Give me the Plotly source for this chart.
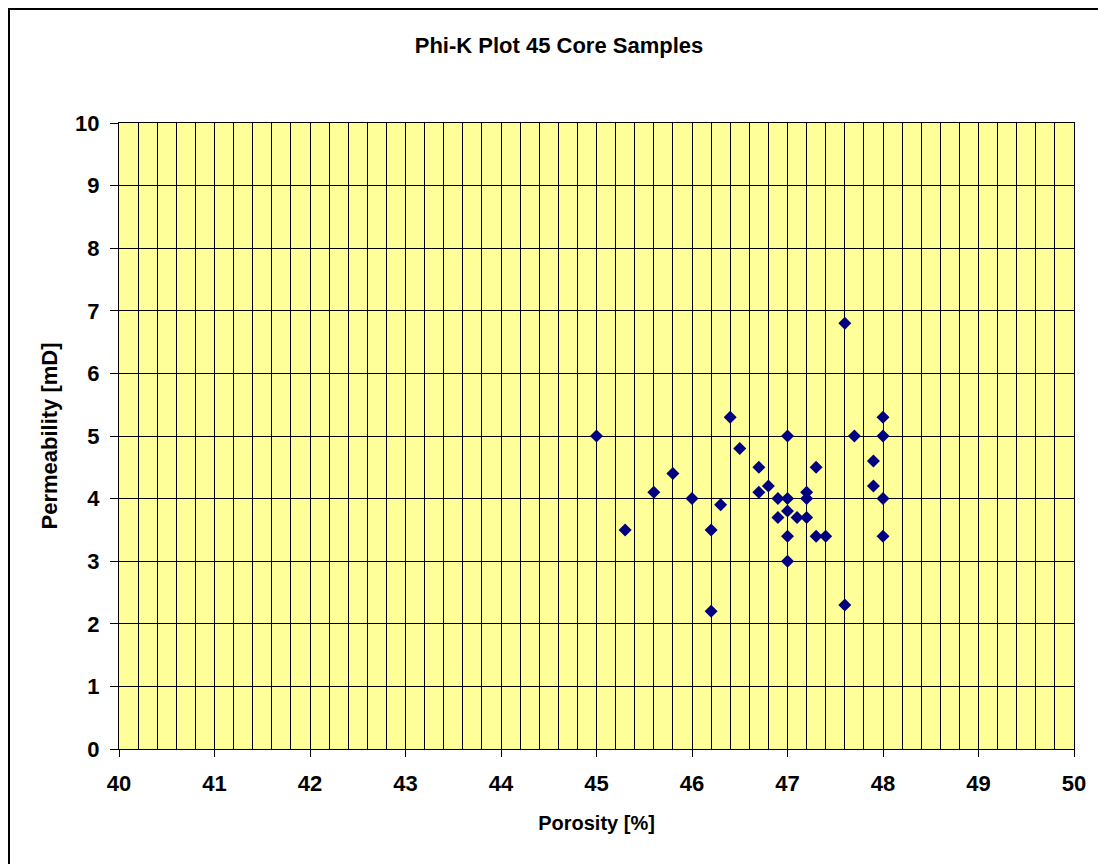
import plotly.graph_objects as go

# Core sample measurements: porosity [%] and permeability [mD]
porosity = [45.0, 46.4, 47.0, 47.7, 48.0, 48.0, 46.5, 46.7, 47.3, 45.8,
            47.9, 47.9, 45.6, 46.0, 46.3, 46.7, 46.8, 46.9, 47.0, 47.2,
            47.2, 48.0, 47.0, 46.9, 47.1, 47.2, 45.3, 46.2, 47.0, 47.3,
            47.4, 48.0, 47.0, 46.2, 47.6, 47.6]
permeability = [5.0, 5.3, 5.0, 5.0, 5.3, 5.0, 4.8, 4.5, 4.5, 4.4,
                4.6, 4.2, 4.1, 4.0, 3.9, 4.1, 4.2, 4.0, 4.0, 4.1,
                4.0, 4.0, 3.8, 3.7, 3.7, 3.7, 3.5, 3.5, 3.4, 3.4,
                3.4, 3.4, 3.0, 2.2, 2.3, 6.8]

x_ticks = list(range(40, 51))
y_ticks = list(range(0, 11))

W, H = 1098, 864
L, R, T, B = 119, 24, 123, 115
FONT = "Arial, Liberation Sans, sans-serif"

fig = go.Figure()
fig.add_trace(go.Scatter(
    x=porosity, y=permeability, mode="markers",
    marker=dict(symbol="diamond", size=10, color="#000080",
                line=dict(width=0)),
    showlegend=False, hoverinfo="x+y",
))

# pixel -> paper fraction helpers for the outer chart frame
pw, ph = W - L - R, H - T - B
def px_x(p):
    return (p - L) / pw
def px_y(p):
    return 1 - (p - T) / ph

fig.update_layout(
    width=W, height=H,
    margin=dict(l=L, r=R, t=T, b=B),
    paper_bgcolor="white",
    plot_bgcolor="#FFFF99",
    font=dict(family=FONT, color="black"),
    title=dict(text="Phi-K Plot 45 Core Samples",
               font=dict(size=22, weight="bold", family=FONT),
               x=559 / W, xanchor="center", y=1 - 45 / H, yanchor="middle"),
    shapes=[dict(type="rect", xref="paper", yref="paper",
                 x0=px_x(9), x1=px_x(1104), y0=px_y(9), y1=px_y(870),
                 line=dict(color="black", width=2), layer="above")],
)

fig.update_xaxes(
    range=[40, 50], tickvals=x_ticks, ticktext=[str(v) for v in x_ticks],
    showgrid=True, gridcolor="black", gridwidth=1,
    minor=dict(dtick=0.2, tick0=40, showgrid=True, gridcolor="black",
               gridwidth=1, ticks=""),
    ticks="outside", ticklen=7, tickcolor="black", tickwidth=1,
    ticklabelstandoff=8,
    showline=True, linecolor="black", linewidth=1, mirror=True,
    zeroline=False,
    tickfont=dict(size=22, weight="bold", family=FONT),
    title=dict(text="Porosity [%]", standoff=20,
               font=dict(size=20, weight="bold", family=FONT)),
)
fig.update_yaxes(
    range=[0, 10], tickvals=y_ticks, ticktext=[str(v) for v in y_ticks],
    showgrid=True, gridcolor="black", gridwidth=1,
    ticks="outside", ticklen=8, tickcolor="black", tickwidth=1,
    ticklabelstandoff=6,
    showline=True, linecolor="black", linewidth=1, mirror=True,
    zeroline=False,
    tickfont=dict(size=22, weight="bold", family=FONT),
    title=dict(text="Permeability [mD]", standoff=11,
               font=dict(size=22, weight="bold", family=FONT)),
)

fig.write_html("out.html")
